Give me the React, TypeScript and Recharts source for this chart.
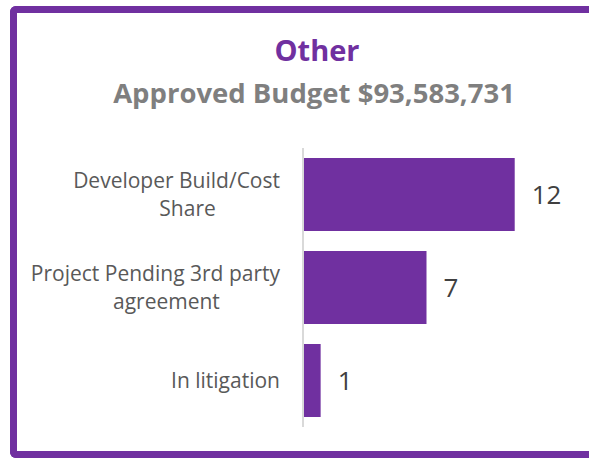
import { BarChart, Bar, XAxis, YAxis, LabelList } from "recharts";

// Category labels (line breaks as in the source chart) and counts
const categories = [
  "Developer Build/Cost\nShare",
  "Project Pending 3rd party\nagreement",
  "In litigation",
];
const counts = [12, 7, 1];
const axisMax = 14;

const title = "Other";
const subtitle = "Approved Budget $93,583,731";

const PURPLE = "#7030A0";
const FONT = '"Open Sans", "Noto Sans", sans-serif';
const LABEL_SIZE = 21;

const data = categories.map((name, i) => ({ name, value: counts[i] }));

let measureCtx: CanvasRenderingContext2D | null = null;
function textWidth(s: string): number {
  if (!measureCtx) measureCtx = document.createElement("canvas").getContext("2d");
  if (!measureCtx) return s.length * LABEL_SIZE * 0.55;
  measureCtx.font = `${LABEL_SIZE}px "Open Sans"`;
  return measureCtx.measureText(s).width;
}

/**
 * Category tick: first line right aligned, following lines centred under it
 */
function CategoryTick({ x, y, payload }: any) {
  const lines = String(payload.value).split("\n");
  const lineHeight = 28;
  const center = x - textWidth(lines[0]) / 2 + 11;
  const startY = y - ((lines.length - 1) * lineHeight) / 2;
  return (
    <g>
      {lines.map((line, i) => (
        <text
          key={i}
          x={i === 0 ? x : center}
          y={startY + i * lineHeight}
          dy="0.35em"
          textAnchor={i === 0 ? "end" : "middle"}
          fill="#595959"
          fontSize={LABEL_SIZE}
          fontFamily={FONT}
        >
          {line}
        </text>
      ))}
    </g>
  );
}

export default function App() {
  return (
    <div
      style={{
        position: "absolute",
        left: 0,
        top: 0,
        width: 589,
        height: 460,
        overflow: "hidden",
        background: "#ffffff",
        fontFamily: FONT,
      }}
    >
      {/* purple frame, right side runs off the picture */}
      <div
        style={{
          position: "absolute",
          left: 10,
          top: 6,
          right: -20,
          height: 452,
          boxSizing: "border-box",
          borderTop: `7px solid ${PURPLE}`,
          borderBottom: `7px solid ${PURPLE}`,
          borderLeft: `7px solid ${PURPLE}`,
          borderRadius: "6px 0 0 6px",
        }}
      />
      <div
        style={{
          position: "absolute",
          left: 20,
          width: 594,
          top: 31,
          textAlign: "center",
          color: PURPLE,
          fontWeight: 700,
          fontSize: 29,
          lineHeight: "38px",
        }}
      >
        {title}
      </div>
      <div
        style={{
          position: "absolute",
          left: 20,
          width: 588,
          top: 75,
          textAlign: "center",
          color: "#7F7F7F",
          fontWeight: 700,
          fontSize: 27.5,
          lineHeight: "36px",
          whiteSpace: "nowrap",
        }}
      >
        {subtitle}
      </div>
      <div style={{ position: "absolute", left: 0, top: 0 }}>
        <BarChart
          width={589}
          height={460}
          data={data}
          layout="vertical"
          margin={{ top: 148, right: 39, bottom: 33, left: 0 }}
          barSize={73}
        >
          <XAxis type="number" domain={[0, axisMax]} hide />
          <YAxis
            type="category"
            dataKey="name"
            width={303}
            axisLine={{ stroke: "#D9D9D9", strokeWidth: 2 }}
            tickLine={false}
            tickMargin={17}
            tick={<CategoryTick />}
            interval={0}
          />
          <Bar dataKey="value" fill={PURPLE} isAnimationActive={false}>
            <LabelList
              dataKey="value"
              position="right"
              offset={17}
              fill="#404040"
              fontSize={26}
              fontFamily={FONT}
            />
          </Bar>
        </BarChart>
      </div>
    </div>
  );
}
